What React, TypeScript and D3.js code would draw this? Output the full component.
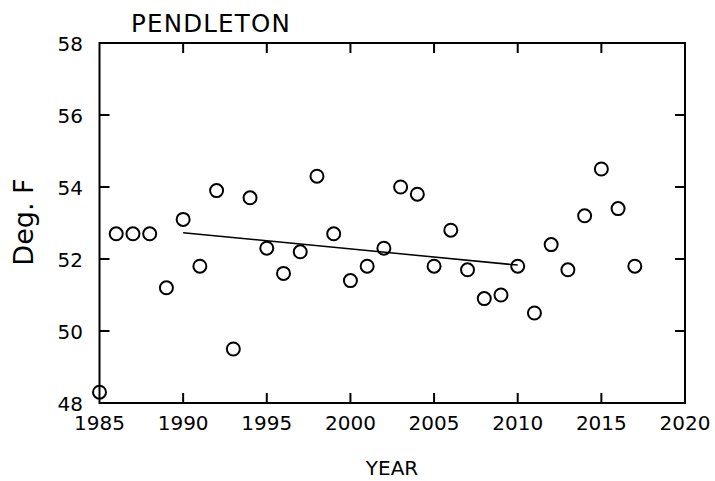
import React from "react";
import * as d3 from "d3";

const years = [1985,1986,1987,1988,1989,1990,1991,1992,1993,1994,1995,1996,1997,1998,1999,2000,2001,2002,2003,2004,2005,2006,2007,2008,2009,2010,2011,2012,2013,2014,2015,2016,2017];
const temps = [48.3,52.7,52.7,52.7,51.2,53.1,51.8,53.9,49.5,53.7,52.3,51.6,52.2,54.3,52.7,51.4,51.8,52.3,54.0,53.8,51.8,52.8,51.7,50.9,51.0,51.8,50.5,52.4,51.7,53.2,54.5,53.4,51.8];
const trendYears = [1990, 2010];
const trendValues = [52.73, 51.83];
const xTicks = [1985,1990,1995,2000,2005,2010,2015,2020];
const yTicks = [48,50,52,54,56,58];
const title = "PENDLETON";
const xLabel = "YEAR";
const yLabel = "Deg. F";

const W = 715, H = 481;
const L = 99.5, R = 685, T = 43, B = 403;
const FONT = "'DejaVu Sans', sans-serif";

export default function App() {
  const x = d3.scaleLinear().domain([1985, 2020]).range([L, R]);
  const y = d3.scaleLinear().domain([48, 58]).range([B, T]);
  const line = d3.line<number>().x((d, i) => x(trendYears[i])).y(d => y(d));
  const tl = 10;
  return (
    <svg width={W} height={H} style={{ position: "absolute", left: 0, top: 0, background: "#fff" }}>
      <rect x={0} y={0} width={W} height={H} fill="#fff" />
      <text x={211} y={32} textAnchor="middle" fontFamily={FONT} fontSize={24.5} letterSpacing={1.2} fill="#000">{title}</text>
      <rect x={L} y={T} width={R - L} height={B - T} fill="none" stroke="#000" strokeWidth={2} />
      {xTicks.slice(1, -1).map(t => (
        <g key={"xt" + t}>
          <line x1={x(t)} x2={x(t)} y1={B} y2={B - tl} stroke="#000" strokeWidth={2} />
          <line x1={x(t)} x2={x(t)} y1={T} y2={T + tl} stroke="#000" strokeWidth={2} />
        </g>
      ))}
      {yTicks.slice(1, -1).map(t => (
        <g key={"yt" + t}>
          <line x1={L} x2={L + tl} y1={y(t)} y2={y(t)} stroke="#000" strokeWidth={2} />
          <line x1={R} x2={R - tl} y1={y(t)} y2={y(t)} stroke="#000" strokeWidth={2} />
        </g>
      ))}
      {xTicks.map(t => (
        <text key={"xl" + t} x={x(t)} y={430} textAnchor="middle" fontFamily={FONT} fontSize={20} fill="#000">{t}</text>
      ))}
      {yTicks.map(t => (
        <text key={"yl" + t} x={83} y={y(t) + 7.5} textAnchor="end" fontFamily={FONT} fontSize={20} fill="#000">{t}</text>
      ))}
      <text x={392} y={475} textAnchor="middle" fontFamily={FONT} fontSize={20} fill="#000">{xLabel}</text>
      <text transform={`translate(33,222) rotate(-90)`} textAnchor="middle" fontFamily={FONT} fontSize={27} fill="#000">{yLabel}</text>
      <path d={line(trendValues) || ""} fill="none" stroke="#000" strokeWidth={1.5} />
      {years.map((yr, i) => (
        <circle key={yr} cx={x(yr)} cy={y(temps[i])} r={6.5} fill="none" stroke="#000" strokeWidth={2} />
      ))}
    </svg>
  );
}
